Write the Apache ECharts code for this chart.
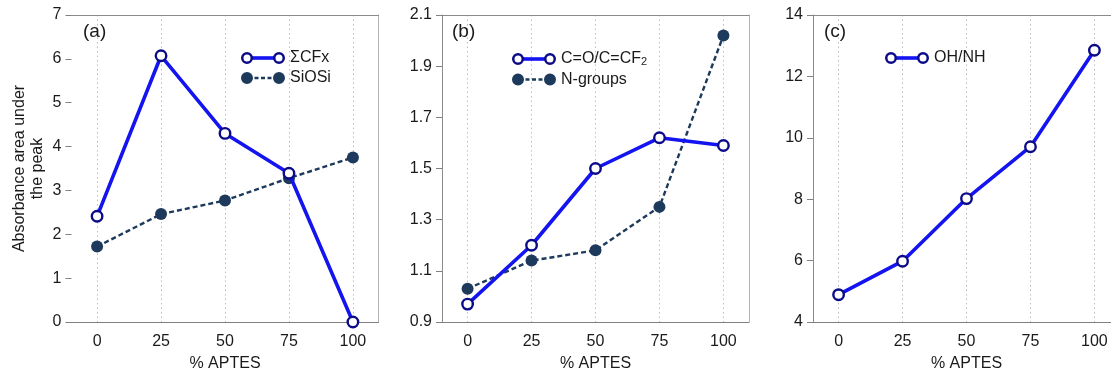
<!DOCTYPE html>
<html>
<head>
<meta charset="utf-8">
<script src="https://cdn.jsdelivr.net/npm/echarts@6/dist/echarts.min.js"></script>
<style>
  html, body { margin: 0; padding: 0; background: #ffffff; }
  #chart { width: 1111px; height: 374px; }
</style>
</head>
<body>
<div id="chart"></div>
<script>
// APTES content (%) shared by all three panels
const aptes = [0, 25, 50, 75, 100];
const xTickValues = [0, 25, 50, 75, 100];

// (a) fluorocarbon and siloxane bands
const cfxTotal = [2.41, 6.07, 4.30, 3.39, 0.0];
const siOSi = [1.72, 2.46, 2.77, 3.28, 3.75];

// (b) carbonyl / fluoro-olefin and nitrogen bands
const carbonylCF2 = [0.97, 1.20, 1.50, 1.62, 1.59];
const nGroups = [1.03, 1.14, 1.18, 1.35, 2.02];

// (c) hydroxyl / amine band
const ohNh = [4.89, 5.98, 8.02, 9.71, 12.85];

const panelLabels = ['(a)', '(b)', '(c)'];
const seriesNames = {
  cfx: 'ΣCFx', siosi: 'SiOSi', co: 'C=O/C=CF2', ng: 'N-groups', oh: 'OH/NH'
};

const FONT = '"Liberation Sans", Arial, Helvetica, sans-serif';
const FS = 16;
const TXT = '#1a1a1a';
const BLUE = '#1414f0';
const NAVY = '#0b0b88';
const SLATE = '#1d3a5c';

// panel geometry and y scales
const panels = [
  { left: 71.5, yMin: 0, yMax: 7, yStep: 1, dec: 0, leftLine: false },
  { left: 442, yMin: 0.9, yMax: 2.1, yStep: 0.2, dec: 1, leftLine: true },
  { left: 813, yMin: 4, yMax: 14, yStep: 2, dec: 0, leftLine: true }
];

const pairs = arr => aptes.map((x, k) => [x, arr[k]]);

// legend glyphs: 44x14 boxes (corner moveTo points pin the box size)
const BOX = 'M0,0 M44,14 ';
const ringIcon = 'path://' + BOX +
  'M0,7 A6,6 0 1,1 12,7 A6,6 0 1,1 0,7 Z M2.5,7 A3.5,3.5 0 1,0 9.5,7 A3.5,3.5 0 1,0 2.5,7 Z ' +
  'M32,7 A6,6 0 1,1 44,7 A6,6 0 1,1 32,7 Z M34.5,7 A3.5,3.5 0 1,0 41.5,7 A3.5,3.5 0 1,0 34.5,7 Z';
const solidIcon = 'path://' + BOX + 'M10,5.2 L34,5.2 L34,8.8 L10,8.8 Z';
const dashIcon = 'path://' + BOX +
  'M0,7 A6,6 0 1,1 12,7 A6,6 0 1,1 0,7 Z M32,7 A6,6 0 1,1 44,7 A6,6 0 1,1 32,7 Z ' +
  'M13.5,5.8 L17.5,5.8 L17.5,8.2 L13.5,8.2 Z M20,5.8 L24,5.8 L24,8.2 L20,8.2 Z M26.5,5.8 L30.5,5.8 L30.5,8.2 L26.5,8.2 Z';

const grids = panels.map(p => ({
  left: p.left, top: 15, width: 307, height: 307,
  containLabel: false, outerBoundsMode: 'none'
}));

const xAxes = [];
panels.forEach((p, i) => {
  xAxes.push({
    gridIndex: i, type: 'value', min: -10, max: 110, position: 'bottom',
    name: '% APTES', nameLocation: 'middle', nameGap: 34,
    nameTextStyle: { fontFamily: FONT, fontSize: FS, color: TXT },
    axisLine: { show: true, onZero: false, lineStyle: { color: '#808080', width: 1 } },
    axisTick: { show: false, customValues: xTickValues },
    axisLabel: { customValues: xTickValues, margin: 12, fontFamily: FONT, fontSize: FS, color: TXT },
    splitLine: { show: true, lineStyle: { color: '#bdbdbd', width: 1, type: [1.5, 3] } }
  });
});
panels.forEach((p, i) => {
  xAxes.push({
    gridIndex: i, type: 'value', min: -10, max: 110, position: 'top',
    axisLine: { show: true, onZero: false, lineStyle: { color: '#8a8a8a', width: 1 } },
    axisTick: { show: false }, axisLabel: { show: false }, splitLine: { show: false }
  });
});

const yAxes = [];
panels.forEach((p, i) => {
  const ax = {
    gridIndex: i, type: 'value', min: p.yMin, max: p.yMax, interval: p.yStep, position: 'left',
    axisLine: { show: p.leftLine, onZero: false, lineStyle: { color: '#8c8c8c', width: 1 } },
    axisTick: { show: true, inside: false, length: 6, lineStyle: { color: '#808080', width: 1 } },
    axisLabel: {
      margin: 10, fontFamily: FONT, fontSize: FS, color: TXT,
      formatter: v => Number(v).toFixed(p.dec)
    },
    splitLine: { show: false }
  };
  if (i === 0) {
    Object.assign(ax, {
      name: 'Absorbance area under\nthe peak', nameLocation: 'middle', nameRotate: 90, nameGap: 25,
      nameTextStyle: { fontFamily: FONT, fontSize: FS, color: TXT, lineHeight: 18 }
    });
  }
  yAxes.push(ax);
});
panels.forEach((p, i) => {
  yAxes.push({
    gridIndex: i, type: 'value', min: p.yMin, max: p.yMax, position: 'right',
    axisLine: { show: true, onZero: false, lineStyle: { color: '#b4b4b4', width: 1 } },
    axisTick: { show: false }, axisLabel: { show: false }, splitLine: { show: false }
  });
});

function ringSeries(name, data, idx) {
  return {
    name, type: 'line', data: pairs(data), xAxisIndex: idx, yAxisIndex: idx, z: 4,
    symbol: 'circle', symbolSize: 10.5, showSymbol: true,
    lineStyle: { color: BLUE, width: 3.6 },
    itemStyle: { color: '#ffffff', borderColor: NAVY, borderWidth: 2.4 },
    emphasis: { disabled: true }
  };
}
function dotSeries(name, data, idx) {
  return {
    name, type: 'line', data: pairs(data), xAxisIndex: idx, yAxisIndex: idx, z: 3,
    symbol: 'circle', symbolSize: 12,
    lineStyle: { color: SLATE, width: 2.4, type: [5, 3] },
    itemStyle: { color: SLATE, borderWidth: 0 },
    emphasis: { disabled: true }
  };
}

const series = [
  dotSeries(seriesNames.siosi, siOSi, 0),
  ringSeries(seriesNames.cfx, cfxTotal, 0),
  dotSeries(seriesNames.ng, nGroups, 1),
  ringSeries(seriesNames.co, carbonylCF2, 1),
  ringSeries(seriesNames.oh, ohNh, 2)
];

const legendText = {
  fontFamily: FONT, fontSize: FS, color: TXT,
  rich: { sub: { fontFamily: FONT, fontSize: 11, color: TXT, verticalAlign: 'bottom', padding: [6, 0, 0, 0] } }
};
const legendBase = {
  orient: 'vertical', itemWidth: 44, itemHeight: 14, itemGap: 4, padding: 0,
  selectedMode: false, textStyle: legendText
};
const withSub = name => name === seriesNames.co ? 'C=O/C=CF{sub|2}' : name;

function legendPair(left, top, openName, dottedName) {
  const lineData = [{ name: openName, icon: solidIcon, itemStyle: { color: BLUE, borderWidth: 0 } }];
  if (dottedName) lineData.push({ name: dottedName, icon: dashIcon, itemStyle: { color: SLATE, borderWidth: 0 } });
  return [
    Object.assign({}, legendBase, { left, top, z: 4, data: lineData, formatter: withSub }),
    Object.assign({}, legendBase, {
      left, top: top + 1, z: 5, formatter: () => '',
      data: [{ name: openName, icon: ringIcon, itemStyle: { color: NAVY, borderWidth: 0 } }]
    })
  ];
}

const legends = [].concat(
  legendPair(241, 50, seriesNames.cfx, seriesNames.siosi),
  legendPair(512, 51, seriesNames.co, seriesNames.ng),
  legendPair(885, 50, seriesNames.oh, null)
);

const titleLefts = [83, 452, 824];
const titles = panelLabels.map((t, i) => ({
  text: t, left: titleLefts[i], top: 22, padding: 0,
  textStyle: { fontFamily: FONT, fontSize: 19, fontWeight: 'normal', color: TXT }
}));

const chart = echarts.init(document.getElementById('chart'), null, { renderer: 'canvas' });
chart.setOption({
  backgroundColor: '#ffffff',
  animation: false,
  title: titles,
  legend: legends,
  grid: grids,
  xAxis: xAxes,
  yAxis: yAxes,
  series
});
</script>
</body>
</html>
